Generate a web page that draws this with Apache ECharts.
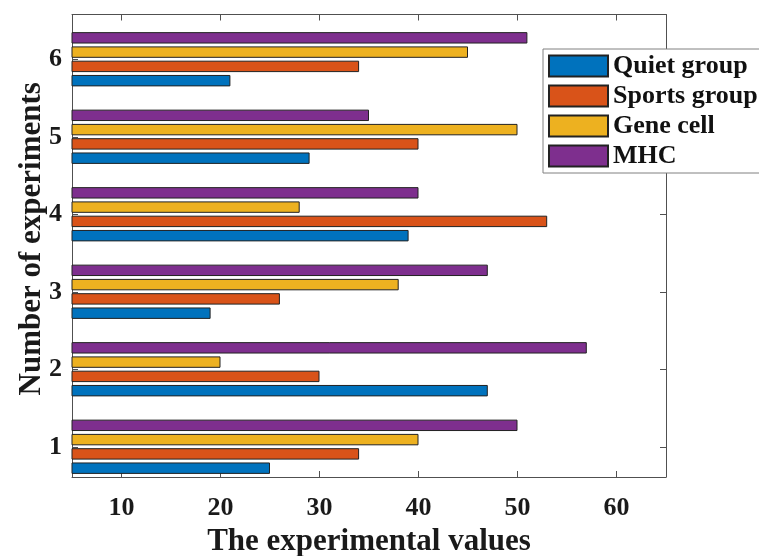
<!DOCTYPE html>
<html>
<head>
<meta charset="utf-8">
<script src="https://cdn.jsdelivr.net/npm/echarts@6/dist/echarts.min.js"></script>
<style>html,body{margin:0;padding:0;background:#fff;}#chart{width:759px;height:556px;}</style>
</head>
<body>
<div id="chart"></div>
<script>
const categories = ['1', '2', '3', '4', '5', '6'];
const categoryTicks = [1, 2, 3, 4, 5, 6];
const seriesNames = ['Quiet group', 'Sports group', 'Gene cell', 'MHC'];
const quietGroup = [25, 47, 19, 39, 29, 21];
const sportsGroup = [34, 30, 26, 53, 40, 34];
const geneCell = [40, 20, 38, 28, 50, 45];
const mhc = [50, 57, 47, 40, 35, 51];
const xTicks = [10, 20, 30, 40, 50, 60];
const colors = ['#0072BD', '#D95319', '#EDB120', '#7E2F8E'];

const FONT = 'Liberation Serif';
const frameColor = '#505050';
const textColor = '#1a1a1a';
const values = [quietGroup, sportsGroup, geneCell, mhc];

// ECharts stacks horizontal bar series top-to-bottom, so add them in reverse
// to get Quiet group at the bottom of each group as in the reference.
const series = [];
for (let i = values.length - 1; i >= 0; i--) {
  series.push({
    name: seriesNames[i],
    type: 'bar',
    xAxisIndex: 0,
    yAxisIndex: 0,
    data: values[i],
    barCategoryGap: '30%',
    barGap: '25%',
    itemStyle: { color: colors[i], borderColor: '#222', borderWidth: 1 },
    emphasis: { disabled: true }
  });
}

const tickStyle = (vals) => ({ show: true, inside: true, length: 6, customValues: vals, lineStyle: { color: frameColor } });
const lineStyle = { show: true, lineStyle: { color: frameColor, width: 1 } };

const chart = echarts.init(document.getElementById('chart'), null, { renderer: 'canvas' });
chart.setOption({
  animation: false,
  grid: [
    { left: 72, right: 93, top: 20.5, bottom: 70.5, containLabel: false, outerBoundsMode: 'none' },
    { left: 72, right: 93, top: 14.5, bottom: 79, containLabel: false, outerBoundsMode: 'none' }
  ],
  legend: {
    data: seriesNames,
    orient: 'vertical',
    left: 543,
    top: 49,
    itemWidth: 59,
    itemHeight: 21,
    itemGap: 4,
    padding: [4, 20, 4, 5],
    borderColor: '#808080',
    borderWidth: 1,
    backgroundColor: '#fff',
    icon: 'rect',
    textStyle: { fontFamily: FONT, fontWeight: 'bold', fontSize: 26, color: '#111' }
  },
  xAxis: [
    { gridIndex: 0, type: 'value', min: 5, max: 65, show: false },
    {
      gridIndex: 1, type: 'value', min: 5, max: 65, position: 'bottom',
      axisLine: lineStyle,
      axisTick: tickStyle(xTicks),
      axisLabel: { customValues: xTicks, fontFamily: FONT, fontWeight: 'bold', fontSize: 26, color: textColor, margin: 18 },
      splitLine: { show: false },
      name: 'The experimental values', nameLocation: 'middle', nameGap: 49, nameMoveOverlap: false,
      nameTextStyle: { fontFamily: FONT, fontWeight: 'bold', fontSize: 31, color: textColor }
    },
    {
      gridIndex: 1, type: 'value', min: 5, max: 65, position: 'top',
      axisLine: lineStyle,
      axisTick: tickStyle(xTicks),
      axisLabel: { show: false },
      splitLine: { show: false }
    }
  ],
  yAxis: [
    { gridIndex: 0, type: 'category', data: categories, show: false },
    {
      gridIndex: 1, type: 'value', min: 0.61, max: 6.58, position: 'left',
      axisLine: lineStyle,
      axisTick: tickStyle(categoryTicks),
      axisLabel: { customValues: categoryTicks, fontFamily: FONT, fontWeight: 'bold', fontSize: 26, color: textColor, margin: 10 },
      splitLine: { show: false },
      name: 'Number of experiments', nameLocation: 'middle', nameGap: 25, nameRotate: 90, nameMoveOverlap: false,
      nameTextStyle: { fontFamily: FONT, fontWeight: 'bold', fontSize: 31, color: textColor, padding: [0, 0, 0, 14] }
    },
    {
      gridIndex: 1, type: 'value', min: 0.61, max: 6.58, position: 'right',
      axisLine: lineStyle,
      axisTick: tickStyle(categoryTicks),
      axisLabel: { show: false },
      splitLine: { show: false }
    }
  ],
  series: series
});
</script>
</body>
</html>
